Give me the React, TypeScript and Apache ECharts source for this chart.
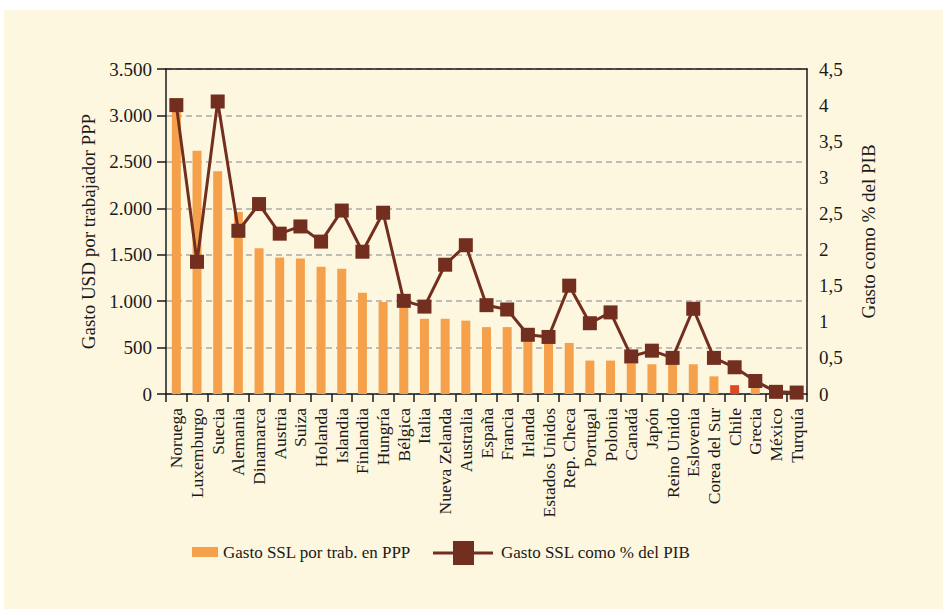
import React, { useEffect, useRef } from "react";
import * as echarts from "echarts";

const countries = [
  "Noruega", "Luxemburgo", "Suecia", "Alemania", "Dinamarca", "Austria", "Suiza", "Holanda",
  "Islandia", "Finlandia", "Hungría", "Bélgica", "Italia", "Nueva Zelanda", "Australia", "España",
  "Francia", "Irlanda", "Estados Unidos", "Rep. Checa", "Portugal", "Polonia", "Canadá", "Japón",
  "Reino Unido", "Eslovenia", "Corea del Sur", "Chile", "Grecia", "México", "Turquía",
];

const gastoPPP = [
  3050, 2620, 2400, 1960, 1570, 1470, 1460, 1370,
  1350, 1090, 990, 960, 810, 810, 790, 720,
  720, 570, 560, 550, 360, 360, 330, 320,
  320, 320, 190, 95, 70, 15, 10,
];

const gastoPIB = [
  4.0, 1.83, 4.05, 2.26, 2.63, 2.22, 2.32, 2.11,
  2.54, 1.97, 2.51, 1.29, 1.21, 1.79, 2.06, 1.23,
  1.17, 0.82, 0.79, 1.5, 0.98, 1.13, 0.52, 0.6,
  0.5, 1.18, 0.5, 0.37, 0.18, 0.03, 0.02,
];

const highlighted = ["Chile"];

const leftTicks = { min: 0, max: 3500, interval: 500 };
const rightTicks = { min: 0, max: 4.5, interval: 0.5 };

const barName = "Gasto SSL por trab. en PPP";
const lineName = "Gasto SSL como % del PIB";
const leftAxisName = "Gasto USD por trabajador PPP";
const rightAxisName = "Gasto como % del PIB";

const FONT = "'Liberation Serif', 'DejaVu Serif', serif";
const BAR = "#f5a04a";
const BAR_HI = "#e2481f";
const LINE = "#722e1e";
const CREAM = "#fef7df";
const INK = "#1a1a1a";

export default function App() {
  const ref = useRef<HTMLDivElement>(null);
  useEffect(() => {
    document.body.style.margin = "0";
    const chart = echarts.init(ref.current!, null, { renderer: "svg" });
    chart.setOption({
      animation: false,
      backgroundColor: "#ffffff",
      textStyle: { fontFamily: FONT },
      graphic: [
        { type: "rect", z: -10, shape: { x: 4, y: 10, width: 939, height: 599 }, style: { fill: CREAM } },
        { type: "rect", shape: { x: 192, y: 547, width: 26, height: 10 }, style: { fill: BAR } },
        { type: "text", x: 223, y: 552, style: { text: barName, font: `17px ${FONT}`, fill: INK, verticalAlign: "middle" } },
        { type: "line", shape: { x1: 433, y1: 553, x2: 493, y2: 553 }, style: { stroke: LINE, lineWidth: 3 } },
        { type: "rect", shape: { x: 453, y: 541, width: 21, height: 24 }, style: { fill: LINE } },
        { type: "text", x: 501, y: 552, style: { text: lineName, font: `17px ${FONT}`, fill: INK, verticalAlign: "middle" } },
      ],
      grid: { left: 166, right: 136, top: 69, bottom: 215 },
      xAxis: [
        {
          type: "category",
          data: countries,
          axisLine: { lineStyle: { color: INK, width: 1.5 } },
          axisTick: { show: true, length: 8, lineStyle: { color: INK, width: 1.5 } },
          axisLabel: { rotate: 90, margin: 14, color: INK, fontSize: 17.5, fontFamily: FONT, interval: 0 },
        },
        {
          type: "category",
          position: "top",
          data: countries,
          axisLine: { show: true, onZero: false, lineStyle: { color: INK, width: 1.5 } },
          axisTick: { show: false },
          axisLabel: { show: false },
          z: 10,
        },
      ],
      yAxis: [
        {
          type: "value",
          ...leftTicks,
          name: leftAxisName,
          nameLocation: "middle",
          nameGap: 66,
          nameTextStyle: { fontSize: 19, color: INK, fontFamily: FONT },
          axisLine: { show: true, lineStyle: { color: INK, width: 1.5 } },
          axisTick: { show: true, length: 9, lineStyle: { color: INK, width: 1.5 } },
          axisLabel: {
            margin: 14,
            color: INK,
            fontSize: 19,
            fontFamily: FONT,
            formatter: (v: number) => String(v).replace(/\B(?=(\d{3})+(?!\d))/g, "."),
          },
          splitLine: { show: true, lineStyle: { color: "#aaaaaa", width: 1.5, type: [6, 4] } },
        },
        {
          type: "value",
          ...rightTicks,
          name: rightAxisName,
          nameLocation: "middle",
          nameGap: 52,
          nameTextStyle: { fontSize: 19, color: INK, fontFamily: FONT },
          axisLine: { show: true, lineStyle: { color: INK, width: 1.5 } },
          axisTick: { show: false },
          axisLabel: {
            margin: 12,
            color: INK,
            fontSize: 19,
            fontFamily: FONT,
            formatter: (v: number) => String(v).replace(".", ","),
          },
          splitLine: { show: false },
        },
      ],
      series: [
        {
          name: barName,
          type: "bar",
          yAxisIndex: 0,
          barWidth: 9,
          data: gastoPPP.map((v, i) => ({
            value: v,
            itemStyle: { color: highlighted.includes(countries[i]) ? BAR_HI : BAR },
          })),
        },
        {
          name: lineName,
          type: "line",
          yAxisIndex: 1,
          data: gastoPIB,
          symbol: "rect",
          symbolSize: 14,
          lineStyle: { color: LINE, width: 3 },
          itemStyle: { color: LINE },
        },
      ],
    });
    return () => chart.dispose();
  }, []);
  return <div ref={ref} style={{ width: 943, height: 609 }} />;
}
